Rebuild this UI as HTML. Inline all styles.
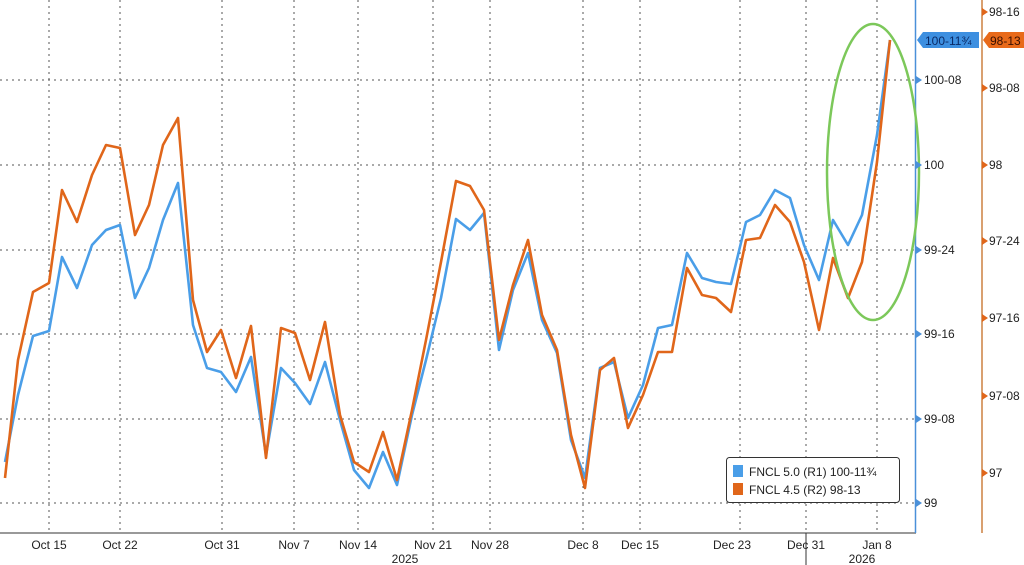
<!DOCTYPE html>
<html><head><meta charset="utf-8"><style>
html,body{margin:0;padding:0;background:#fff;}
svg{display:block;font-family:"Liberation Sans",sans-serif;}
</style></head><body>
<svg width="1024" height="565" viewBox="0 0 1024 565" xmlns="http://www.w3.org/2000/svg">
<rect width="1024" height="565" fill="#fff"/>
<g stroke="#555" stroke-width="1" stroke-dasharray="2,4">
<line x1="0" y1="80" x2="915" y2="80"/>
<line x1="0" y1="165" x2="915" y2="165"/>
<line x1="0" y1="250" x2="915" y2="250"/>
<line x1="0" y1="334" x2="915" y2="334"/>
<line x1="0" y1="419" x2="915" y2="419"/>
<line x1="0" y1="503" x2="915" y2="503"/>
<line x1="49" y1="0" x2="49" y2="533"/>
<line x1="120" y1="0" x2="120" y2="533"/>
<line x1="222" y1="0" x2="222" y2="533"/>
<line x1="294" y1="0" x2="294" y2="533"/>
<line x1="358" y1="0" x2="358" y2="533"/>
<line x1="433" y1="0" x2="433" y2="533"/>
<line x1="490" y1="0" x2="490" y2="533"/>
<line x1="583" y1="0" x2="583" y2="533"/>
<line x1="640" y1="0" x2="640" y2="533"/>
<line x1="740" y1="0" x2="740" y2="533"/>
<line x1="806" y1="0" x2="806" y2="533"/>
<line x1="877" y1="0" x2="877" y2="533"/>
</g>
<line x1="0" y1="533" x2="916" y2="533" stroke="#333"/>
<line x1="915.5" y1="0" x2="915.5" y2="533" stroke="#4a90d9" stroke-width="1.5"/>
<line x1="982" y1="0" x2="982" y2="533" stroke="#d9a070" stroke-width="2"/>
<g stroke="#333">
<line x1="806" y1="533" x2="806" y2="565"/>
</g>
<polyline fill="none" stroke="#4a9ee8" stroke-width="2.6" stroke-linejoin="round" points="5,462 18,395 33,336 49,331 62,257 77,288 92,245 106,230 120,225 135,298 149,268 163,220 178,183 193,325 207,368 221,372 236,392 251,357 266,455 281,368 295,383 310,404 325,362 340,420 354,470 369,488 383,452 397,485 412,415 426,360 441,298 456,219 470,230 484,213 499,350 513,290 528,253 542,320 557,353 571,440 585,478 600,368 614,362 628,418 643,385 658,328 672,325 687,253 702,278 716,282 731,284 746,222 760,215 775,190 790,198 804,245 819,280 833,220 848,245 862,215 877,135 890,40"/>
<polyline fill="none" stroke="#e0661a" stroke-width="2.6" stroke-linejoin="round" points="5,478 18,360 33,292 49,283 62,190 77,222 92,175 106,145 120,148 135,235 149,205 163,145 178,118 193,300 207,352 221,330 236,378 251,326 266,458 281,328 295,333 310,380 325,322 340,415 354,462 369,472 383,432 397,480 412,410 426,340 441,262 456,181 470,186 484,210 499,340 513,285 528,240 542,315 557,350 571,435 585,488 600,370 614,358 628,428 643,395 658,352 672,352 687,268 702,295 716,298 731,312 746,240 760,238 775,205 790,222 804,262 819,330 833,258 848,298 862,262 877,162 890,40"/>
<ellipse cx="873" cy="172" rx="46" ry="148" fill="none" stroke="#7cc85a" stroke-width="2.5"/>
<g font-size="12" fill="#222">
<g fill="#4a90d9"><path d="M916,76 l6,4 l-6,4z"/><path d="M916,161 l6,4 l-6,4z"/><path d="M916,246 l6,4 l-6,4z"/><path d="M916,330 l6,4 l-6,4z"/><path d="M916,415 l6,4 l-6,4z"/><path d="M916,499 l6,4 l-6,4z"/></g>
<text x="924" y="84">100-08</text>
<text x="924" y="169">100</text>
<text x="924" y="254">99-24</text>
<text x="924" y="338">99-16</text>
<text x="924" y="423">99-08</text>
<text x="924" y="507">99</text>
<g fill="#e0661a"><path d="M982,8 l6,4 l-6,4z"/><path d="M982,84 l6,4 l-6,4z"/><path d="M982,161 l6,4 l-6,4z"/><path d="M982,237 l6,4 l-6,4z"/><path d="M982,314 l6,4 l-6,4z"/><path d="M982,392 l6,4 l-6,4z"/><path d="M982,469 l6,4 l-6,4z"/></g>
<text x="989" y="16">98-16</text>
<text x="989" y="92">98-08</text>
<text x="989" y="169">98</text>
<text x="989" y="245">97-24</text>
<text x="989" y="322">97-16</text>
<text x="989" y="400">97-08</text>
<text x="989" y="477">97</text>
</g>
<path d="M917,40 l6,-8 h56 v16 h-56z" fill="#3d8fe0"/>
<text x="925" y="45" font-size="12" fill="#0a2a66">100-11¾</text>
<path d="M983,40 l6,-8 h40 v16 h-40z" fill="#e86a1a"/>
<text x="990" y="45" font-size="12" fill="#3a1000">98-13</text>
<g font-size="12" fill="#222" text-anchor="middle">
<text x="49" y="549">Oct 15</text>
<text x="120" y="549">Oct 22</text>
<text x="222" y="549">Oct 31</text>
<text x="294" y="549">Nov 7</text>
<text x="358" y="549">Nov 14</text>
<text x="433" y="549">Nov 21</text>
<text x="490" y="549">Nov 28</text>
<text x="583" y="549">Dec 8</text>
<text x="640" y="549">Dec 15</text>
<text x="732" y="549">Dec 23</text>
<text x="806" y="549">Dec 31</text>
<text x="877" y="549">Jan 8</text>
<text x="405" y="563">2025</text>
<text x="862" y="563">2026</text>
</g>
<rect x="726.5" y="457.5" width="173" height="45" rx="3" fill="#fff" stroke="#333"/>
<rect x="733" y="465" width="10" height="12" fill="#4a9ee8"/>
<rect x="733" y="483" width="10" height="12" fill="#e0661a"/>
<text x="749" y="476" font-size="12" fill="#222">FNCL 5.0 (R1) 100-11¾</text>
<text x="749" y="494" font-size="12" fill="#222">FNCL 4.5 (R2) 98-13</text>
</svg>
</body></html>
